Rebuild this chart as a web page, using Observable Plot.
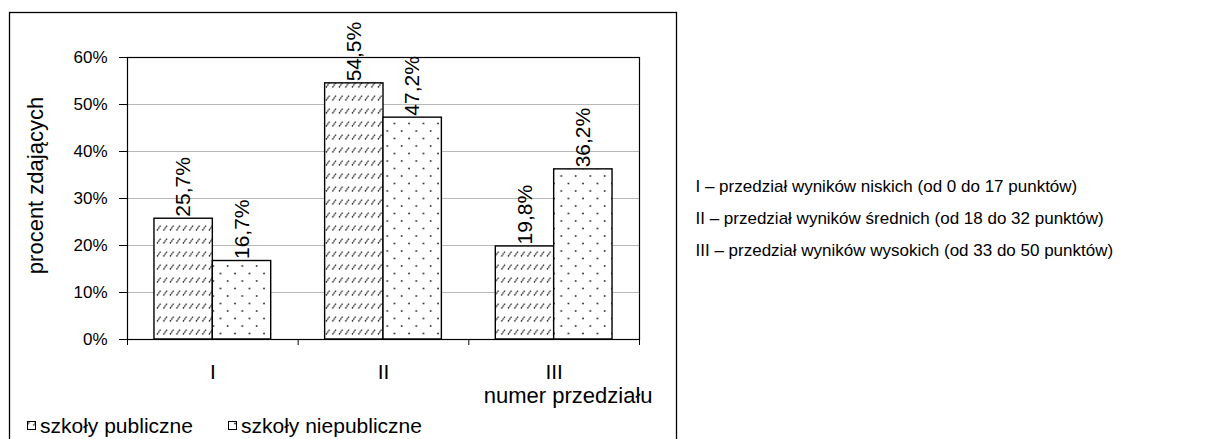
<!DOCTYPE html>
<html><head><meta charset="utf-8">
<script src="https://cdn.jsdelivr.net/npm/d3@7"></script>
<script src="https://cdn.jsdelivr.net/npm/@observablehq/plot@0.6"></script>
<style>body{margin:0;background:#fff;} svg{display:block}</style>
</head><body><div id="chart"></div>
<script>
const categories = ["I", "II", "III"];
const seriesNames = ["szkoły publiczne", "szkoły niepubliczne"];
const publiczne = [25.7, 54.5, 19.8];
const niepubliczne = [16.7, 47.2, 36.2];
const yTicks = [0, 10, 20, 30, 40, 50, 60];
const yTitle = "procent zdających";
const xTitle = "numer przedziału";
const notes = [
  "I – przedział wyników niskich (od 0 do 17 punktów)",
  "II – przedział wyników średnich (od 18 do 32 punktów)",
  "III – przedział wyników wysokich (od 33 do 50 punktów)"
];

const rows = [];
categories.forEach((c, i) => {
  rows.push({cat: c, i, series: seriesNames[0], k: 0, value: publiczne[i]});
  rows.push({cat: c, i, series: seriesNames[1], k: 1, value: niepubliczne[i]});
});

const PAD = 0.158, BW = 0.342;
const fmt = v => v.toFixed(1).replace(".", ",") + "%";
const FONT = "'Liberation Sans', Arial, sans-serif";
const fills = ["url(#hatch)", "url(#dots)"];

const chart = Plot.plot({
  width: 1232, height: 439,
  marginLeft: 127, marginRight: 593, marginTop: 57, marginBottom: 100,
  style: {fontFamily: FONT, fontSize: "17px", color: "#000", background: "#fff", overflow: "visible"},
  x: {type: "linear", domain: [0, categories.length], axis: null, label: null},
  y: {domain: [0, 60], axis: null, label: null},
  marks: [
    Plot.gridY(yTicks.slice(1, -1), {stroke: "#b8b8b8", strokeOpacity: 1}),
    Plot.rectY(rows, {
      x1: d => d.i + PAD + d.k * BW,
      x2: d => d.i + PAD + (d.k + 1) * BW,
      y1: 0, y2: "value",
      fill: d => fills[d.k], stroke: "#000", strokeWidth: 1.4
    }),
    Plot.frame({stroke: "#000", strokeWidth: 1.2}),
    Plot.axisY(yTicks, {tickSize: 8, tickPadding: 12, tickFormat: d => d + "%", fontSize: 17, stroke: "#000", label: null}),
    Plot.axisX(d3.range(categories.length + 1), {tickSize: 6, tickFormat: () => "", stroke: "#000", label: null}),
    Plot.text(rows, {
      x: d => d.i + PAD + (d.k + 0.5) * BW, y: "value",
      text: d => fmt(d.value), rotate: -90, textAnchor: "start", dy: -2, fontSize: 21
    }),
    Plot.text(categories, {x: (d, i) => i + 0.5, y: 0, dy: 33, text: d => d, fontSize: 21}),
    Plot.text([xTitle], {frameAnchor: "bottom-right", textAnchor: "end", dx: 13, dy: 63, fontSize: 22}),
    Plot.text([yTitle], {frameAnchor: "left", textAnchor: "middle", rotate: -90, dx: -92, dy: -13, fontSize: 22}),
    Plot.text([notes.join("\n")], {frameAnchor: "right", textAnchor: "start", dx: 56, dy: 15, lineHeight: 1.88, fontSize: 17})
  ]
});

document.getElementById("chart").appendChild(chart);

const svg = d3.select(chart);
const defs = svg.insert("defs", ":first-child");
const hatch = defs.append("pattern").attr("id", "hatch").attr("patternUnits", "userSpaceOnUse")
  .attr("width", 6.5).attr("height", 13);
hatch.append("rect").attr("width", 6.5).attr("height", 13).attr("fill", "#fff");
hatch.append("line").attr("x1", 1).attr("y1", 9.5).attr("x2", 4.8).attr("y2", 4.2)
  .attr("stroke", "#222").attr("stroke-width", 1.3).attr("stroke-dasharray", "1.6,0.6");
const dots = defs.append("pattern").attr("id", "dots").attr("patternUnits", "userSpaceOnUse")
  .attr("width", 14.5).attr("height", 15);
dots.append("rect").attr("width", 14.5).attr("height", 15).attr("fill", "#fff");
dots.append("circle").attr("cx", 3).attr("cy", 3.5).attr("r", 0.95).attr("fill", "#333");
dots.append("circle").attr("cx", 10.25).attr("cy", 11).attr("r", 0.95).attr("fill", "#333");

// outer chart border
svg.append("rect").attr("x", 9.5).attr("y", 12.5).attr("width", 667).attr("height", 440)
  .attr("fill", "none").attr("stroke", "#000").attr("stroke-width", 1.3);

// legend
const legendX = [27, 228];
const lg = svg.append("g").attr("font-family", FONT).attr("font-size", 21).attr("text-anchor", "start");
seriesNames.forEach((name, k) => {
  lg.append("rect").attr("x", legendX[k] + 0.5).attr("y", 421.5).attr("width", 8).attr("height", 8)
    .attr("fill", fills[k]).attr("stroke", "#000").attr("stroke-width", 1);
  lg.append("text").attr("x", legendX[k] + 13).attr("y", 433).attr("text-anchor", "start").text(name);
});
</script>
</body></html>
